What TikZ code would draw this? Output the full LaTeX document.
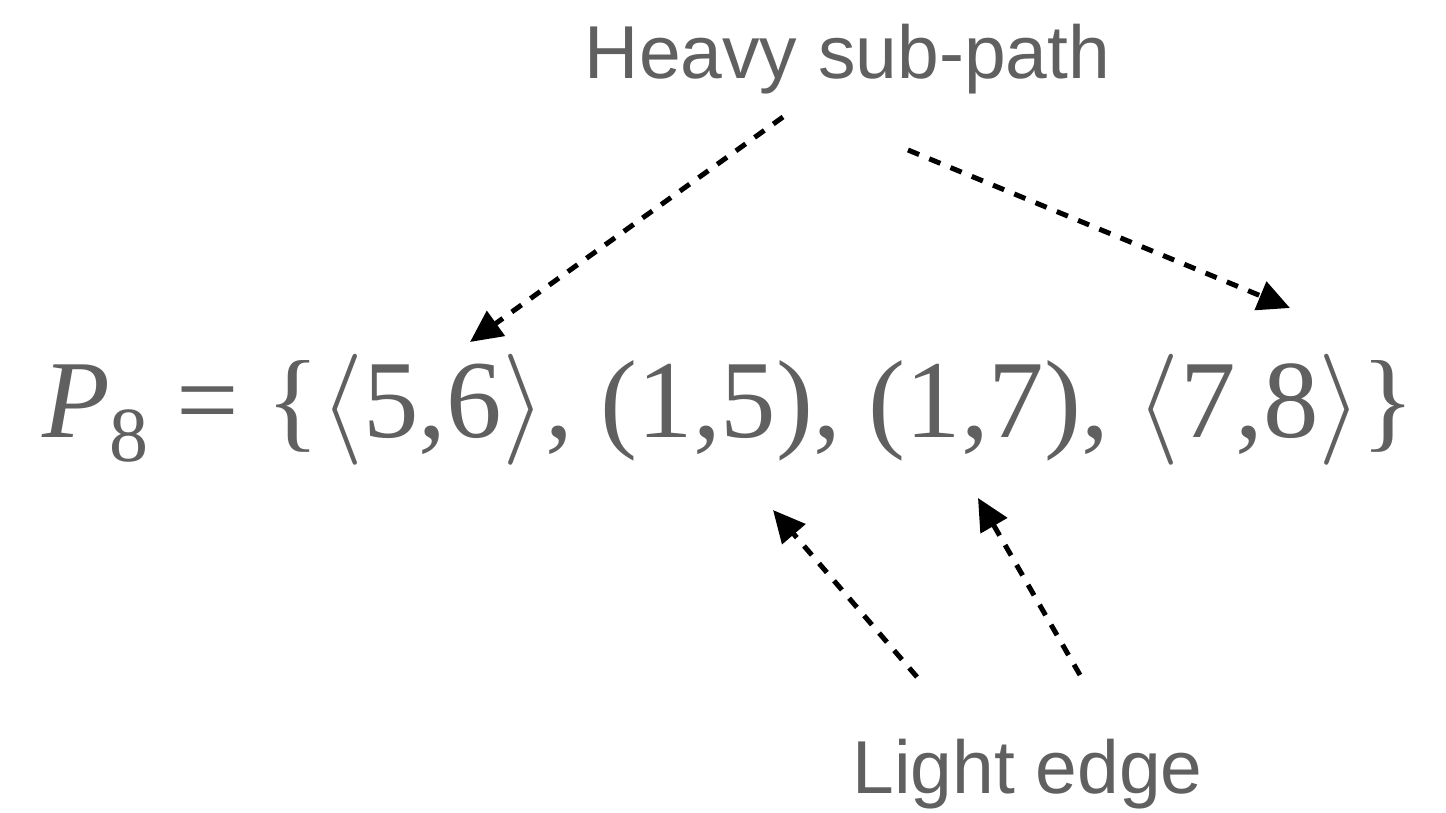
\RequirePackage{fix-cm}
\documentclass[tikz,border=0pt]{standalone}
\usepackage{fontspec}
\setmainfont{Liberation Serif}
\newfontfamily\labelfont{Liberation Sans}
\usetikzlibrary{arrows.meta}
\definecolor{txtgray}{HTML}{606060}
\tikzset{
  lbl/.style={font=\labelfont\fontsize{75}{80}\selectfont, text=txtgray, inner sep=0pt, anchor=base},
  formula/.style={text=txtgray, inner sep=0pt, anchor=base west},
  pointer/.style={draw=black, line width=5pt, dash pattern=on 12pt off 11pt, -{Triangle[length=32pt,width=30pt]}}
}
\begin{document}
\begin{tikzpicture}[x=1pt,y=-1pt]
\useasboundingbox (0,0) rectangle (1446,813);
\node[lbl] (heavy) at (847.5,79) {Heavy sub-path};
\node[lbl] (light) at (1027.5,793) {Light edge};
\node[formula] (eq) at (42,437) {\resizebox{1373pt}{!}{\fontsize{114}{120}\selectfont\textit{P}\raisebox{-0.22em}{\fontsize{80}{80}\selectfont 8}\ = \{$\langle$5,6$\rangle$, (1,5), (1,7), $\langle$7,8$\rangle$\}}};
\coordinate (h1) at (783,117);
\coordinate (h2) at (908,150);
\coordinate (t1) at (470,342);
\coordinate (t2) at (1290,308);
\coordinate (l1) at (917,677);
\coordinate (l2) at (1080,675);
\coordinate (t3) at (773,510);
\coordinate (t4) at (978,498);
\draw[pointer] (h1) -- (t1);
\draw[pointer] (h2) -- (t2);
\draw[pointer] (l1) -- (t3);
\draw[pointer] (l2) -- (t4);
\end{tikzpicture}
\end{document}
